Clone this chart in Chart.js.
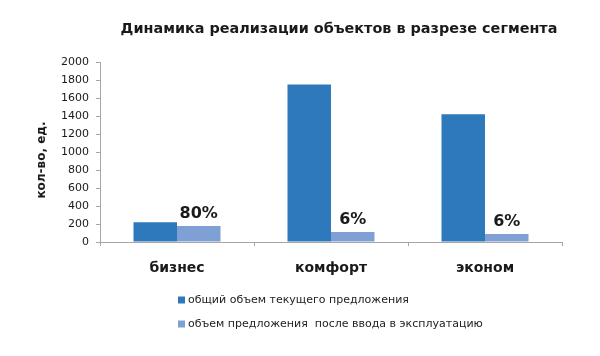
<!DOCTYPE html>
<html><head><meta charset="utf-8">
<script src="https://cdn.jsdelivr.net/npm/chart.js@4/dist/chart.umd.min.js"></script>
<style>html,body{margin:0;padding:0;background:#fff}#w{width:600px;height:356px}</style>
</head><body><div id="w"><canvas id="c"></canvas></div>
<script>
const chartTitle = 'Динамика реализации объектов в разрезе сегмента';
const yTitle = 'кол-во, ед.';
const categories = ['бизнес', 'комфорт', 'эконом'];
const seriesNames = ['общий объем текущего предложения', 'объем предложения  после ввода в эксплуатацию'];
const totalSupply = [220, 1750, 1420];
const afterCommission = [177, 110, 90];
const pctLabels = ['80%', '6%', '6%'];
const colors = ['#2E78BC', '#7FA0D5'];
const FONT = 'DejaVu Sans';

const titlePlugin = {
  id: 'customTitle',
  afterDraw(chart) {
    const ctx = chart.ctx;
    ctx.save();
    ctx.font = 'bold 14.4px "' + FONT + '"';
    ctx.fillStyle = '#1a1a1a';
    ctx.textAlign = 'center';
    ctx.textBaseline = 'middle';
    ctx.fillText(chartTitle, 339, 29);
    // y axis title
    ctx.font = 'bold 12px "' + FONT + '"';
    ctx.translate(42, 160);
    ctx.rotate(-Math.PI / 2);
    ctx.fillText(yTitle, 0, 0);
    ctx.restore();
  }
};

const labelPlugin = {
  id: 'pct',
  afterDatasetsDraw(chart) {
    const ctx = chart.ctx;
    const meta = chart.getDatasetMeta(1);
    ctx.save();
    ctx.font = 'bold 16px "' + FONT + '"';
    ctx.fillStyle = '#1a1a1a';
    ctx.textAlign = 'center';
    ctx.textBaseline = 'bottom';
    meta.data.forEach((bar, i) => {
      ctx.fillText(pctLabels[i], bar.x, bar.y - 4);
    });
    ctx.restore();
  }
};

const legendPlugin = {
  id: 'customLegend',
  afterDraw(chart) {
    const ctx = chart.ctx;
    ctx.save();
    ctx.font = '11px "' + FONT + '"';
    ctx.textBaseline = 'middle';
    ctx.textAlign = 'left';
    const x0 = 178, ys = [300, 324];
    chart.data.datasets.forEach((ds, i) => {
      ctx.fillStyle = ds.backgroundColor;
      ctx.fillRect(x0, ys[i] - 3.5, 7, 7);
      ctx.fillStyle = '#222';
      ctx.fillText(ds.label, x0 + 10, ys[i]);
    });
    ctx.restore();
  }
};

new Chart(document.getElementById('c'), {
  type: 'bar',
  data: {
    labels: categories,
    datasets: [
      { label: seriesNames[0], data: totalSupply, backgroundColor: colors[0] },
      { label: seriesNames[1], data: afterCommission, backgroundColor: colors[1] }
    ]
  },
  options: {
    responsive: true,
    maintainAspectRatio: false,
    animation: false,
    layout: { padding: { left: 34, right: 38, top: 62, bottom: 74 } },
    plugins: {
      legend: { display: false },
      tooltip: { enabled: false },
      title: { display: false }
    },
    datasets: { bar: { categoryPercentage: 0.565, barPercentage: 1.0 } },
    scales: {
      x: {
        afterFit(s) { s.height = 40; },
        border: { display: true, color: '#a6a6a6' },
        grid: { display: true, offset: true, drawOnChartArea: false, drawTicks: true, tickLength: 4, color: '#a6a6a6' },
        ticks: { color: '#1a1a1a', padding: 14, font: { family: FONT, size: 14, weight: 'bold' } }
      },
      y: {
        min: 0, max: 2000,
        afterFit(s) { s.width = 66; },
        border: { display: true, color: '#a6a6a6' },
        grid: { display: true, drawOnChartArea: false, drawTicks: true, tickLength: 4, color: '#a6a6a6' },
        ticks: { stepSize: 200, color: '#1a1a1a', padding: 7, font: { family: FONT, size: 11 },
                 callback: v => String(v) },
        title: { display: false }
      }
    }
  },
  plugins: [titlePlugin, labelPlugin, legendPlugin]
});
</script>
</body></html>
